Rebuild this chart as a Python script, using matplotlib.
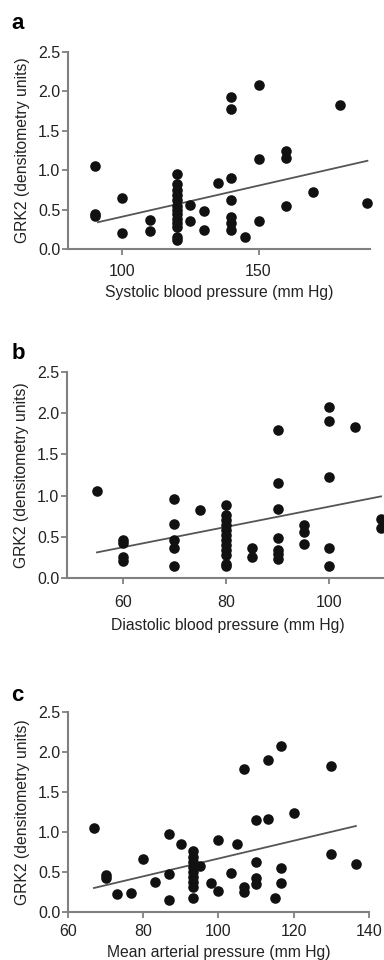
import matplotlib.pyplot as plt
import numpy as np

plt.rcParams['font.family'] = ['Liberation Sans', 'DejaVu Sans']

# panel a: systolic
sys_x = [90, 90, 90, 100, 100, 110, 110,
         120, 120, 120, 120, 120, 120, 120, 120, 120, 120, 120, 120, 120,
         125, 125, 130, 130, 135, 140, 140, 140, 140, 140, 140, 140,
         145, 150, 150, 150, 160, 160, 160, 170, 180, 190]
sys_y = [1.05, 0.45, 0.42, 0.645, 0.20, 0.37, 0.23,
         0.95, 0.83, 0.75, 0.68, 0.62, 0.55, 0.50, 0.45, 0.38, 0.33, 0.28, 0.15, 0.12,
         0.56, 0.35, 0.48, 0.245, 0.84, 0.90, 1.93, 1.78, 0.62, 0.41, 0.33, 0.245,
         0.15, 2.08, 1.14, 0.35, 1.24, 1.16, 0.54, 0.72, 1.83, 0.59]
sys_fit_x = [91, 190]
sys_fit_y = [0.34, 1.12]

# panel b: diastolic
dia_x = [55, 60, 60, 60, 60, 70, 70, 70, 70, 70, 75,
         80, 80, 80, 80, 80, 80, 80, 80, 80, 80, 80, 80,
         85, 85, 90, 90, 90, 90, 90, 90, 90, 95, 95, 95,
         100, 100, 100, 100, 100, 105, 110, 110]
dia_y = [1.05, 0.465, 0.42, 0.25, 0.21, 0.96, 0.66, 0.465, 0.36, 0.14, 0.83,
         0.89, 0.76, 0.70, 0.64, 0.58, 0.52, 0.46, 0.40, 0.34, 0.28, 0.17, 0.14,
         0.36, 0.25, 1.79, 1.15, 0.84, 0.485, 0.34, 0.295, 0.235, 0.64, 0.56, 0.41,
         2.07, 1.91, 1.23, 0.36, 0.15, 1.83, 0.72, 0.60]
dia_fit_x = [55, 110]
dia_fit_y = [0.31, 0.99]

# panel c: mean arterial
map_x = [66.9, 70, 70, 73.1, 76.7, 80, 83.2, 86.8, 86.8, 86.8, 90,
         93.3, 93.3, 93.3, 93.3, 93.3, 93.3, 93.3, 93.3, 93.3,
         95, 98.1, 100, 100, 103.2, 105, 106.7, 106.7, 106.7,
         110, 110, 110, 110, 113.2, 113.2, 115, 116.7, 116.7, 116.7,
         120, 130, 130, 136.5]
map_y = [1.05, 0.46, 0.42, 0.22, 0.24, 0.66, 0.38, 0.97, 0.48, 0.15, 0.85,
         0.76, 0.69, 0.625, 0.56, 0.50, 0.44, 0.375, 0.31, 0.175,
         0.57, 0.36, 0.90, 0.26, 0.49, 0.85, 1.79, 0.31, 0.25,
         1.15, 0.625, 0.42, 0.35, 1.90, 1.16, 0.17, 2.07, 0.55, 0.36,
         1.24, 1.82, 0.73, 0.60]
map_fit_x = [66.9, 136.5]
map_fit_y = [0.30, 1.075]

yticks = [0.0, 0.5, 1.0, 1.5, 2.0, 2.5]
spine_col = '#808080'

fig = plt.figure(figsize=(3.84, 9.6), dpi=100)

# position, data, fit, xlim, xticks, xlabel, letter, letter y, xtick pad, xlabel pad
panels = [
    ([0.177, 0.7406, 0.787, 0.2052], sys_x, sys_y, sys_fit_x, sys_fit_y,
     (80, 191), [100, 150], 'Systolic blood pressure (mm Hg)', 'a', 0.976, 7.0, 4),
    ([0.1745, 0.398, 0.838, 0.2145], dia_x, dia_y, dia_fit_x, dia_fit_y,
     (49.2, 111.5), [60, 80, 100], 'Diastolic blood pressure (mm Hg)', 'b', 0.632, 8.0, 6),
    ([0.177, 0.05, 0.784, 0.2083], map_x, map_y, map_fit_x, map_fit_y,
     (60, 140), [60, 80, 100, 120, 140], 'Mean arterial pressure (mm Hg)', 'c', 0.276, 5.0, 4),
]

for pos, x, y, fx, fy, xlim, xt, xlabel, letter, ly, xpad, lpad in panels:
    ax = fig.add_axes(pos)
    ax.scatter(x, y, s=58, c='#111111', marker='o', linewidths=0, zorder=3, clip_on=False)
    ax.plot(fx, fy, color='#555555', lw=1.3, zorder=2)
    ax.set_xlim(*xlim)
    ax.set_ylim(0, 2.5)
    ax.set_xticks(xt)
    ax.set_yticks(yticks)
    ax.set_yticklabels(['%.1f' % v for v in yticks])
    for s in ['top', 'right']:
        ax.spines[s].set_visible(False)
    for s in ['left', 'bottom']:
        ax.spines[s].set_color(spine_col)
        ax.spines[s].set_linewidth(1.5)
    ax.tick_params(colors=spine_col, labelcolor='#222222', labelsize=11.5,
                   length=4, width=1.3)
    ax.tick_params(axis='x', pad=xpad)
    ax.tick_params(axis='y', pad=1.5)
    ax.set_xlabel(xlabel, fontsize=11.3, color='#222222', labelpad=lpad)
    ax.set_ylabel('GRK2 (densitometry units)', fontsize=11.3, color='#222222', labelpad=6)
    fig.text(0.03, ly, letter, fontsize=16, fontweight='bold', va='center', ha='left')

fig.savefig('out.png', dpi=100)
